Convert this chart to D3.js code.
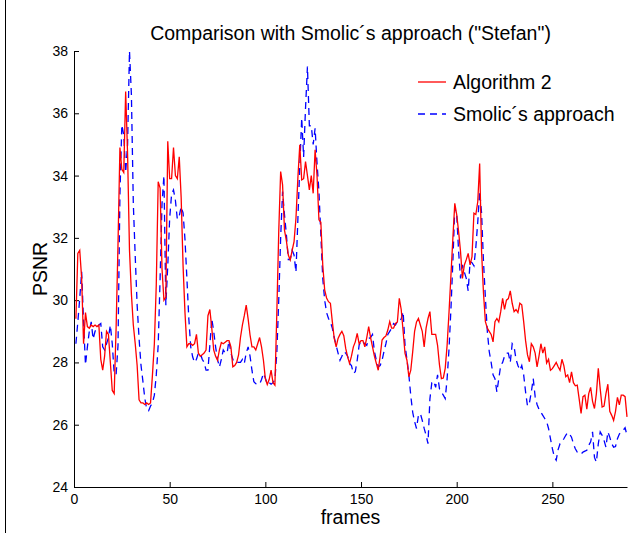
<!DOCTYPE html>
<html lang="en">
<head>
<meta charset="UTF-8">
<title>Comparison with Smolic´s approach</title>
<style>
	* {padding:0; margin:0;}
	body {background:#fff;}
	#chart {display:block;}
	#chart text {font-family:"Liberation Sans", Arial, Helvetica, sans-serif; fill:#000;}
	.axis path, .axis line {stroke:#000; stroke-width:1px; fill:none;}
	.axis text {font-size:14px;}
</style>
</head>
<body>
<svg id="chart" width="633" height="533"></svg>
<script src="https://cdn.jsdelivr.net/npm/d3@7"></script>
<script>
// PSNR per frame (frames 1..289)
var algorithm2 = [
	29.4,31.5,31.6,30.7,28.6,29.6,29.15,29.1,29.2,29.15,29.2,29.15,29.2,28.1,27.75,28.2,29.0,28.9,28.0,27.1,
	27.0,29.1,31.8,34.9,34.2,34.1,36.7,34.7,31.6,30.2,29.2,28.6,27.9,26.8,26.7,26.7,26.65,26.7,26.65,26.7,
	27.6,28.6,30.5,33.8,33.6,31.0,30.0,30.1,35.1,33.9,33.9,34.9,34.0,33.9,34.6,33.3,31.1,29.6,28.5,28.6,
	28.6,28.55,28.6,28.9,28.3,28.2,28.25,28.3,28.4,29.5,29.7,29.1,28.4,28.2,28.07,28.4,28.64,28.6,28.65,28.7,
	28.7,28.5,27.86,27.9,28.0,28.24,28.8,29.2,29.5,29.84,29.4,28.88,28.5,28.5,28.4,28.6,28.8,28.5,28.07,27.48,
	27.29,27.45,27.75,27.35,27.27,29.6,32.2,34.13,33.7,32.25,31.9,31.45,31.29,31.6,31.88,32.63,33.92,34.99,33.86,33.9,
	34.45,34.0,33.54,34.0,33.43,34.83,34.0,32.58,32.5,31.13,30.33,30.07,29.95,29.9,29.31,28.77,28.5,28.77,28.9,29.0,
	28.86,28.45,28.18,27.97,28.2,28.5,28.66,28.93,28.6,28.7,28.7,28.5,28.8,29.15,28.8,28.5,28.2,27.97,27.75,28.2,
	28.72,28.8,28.85,29.04,29.31,29.1,29.1,29.25,29.3,30.06,29.7,29.0,28.29,28.07,27.54,27.75,28.34,29.0,29.3,29.41,
	29.2,29.0,28.5,29.1,29.41,29.63,28.9,28.9,28.9,28.55,27.92,27.48,27.5,27.81,28.56,29.63,30.81,31.99,33.11,32.75,
	32.2,31.56,30.7,31.13,31.3,31.5,31.13,31.4,32.79,32.75,33.16,34.39,31.56,30.22,29.31,29.1,29.0,28.9,28.66,29.31,
	29.41,29.3,29.63,30.06,29.7,30.0,30.05,30.3,29.9,29.63,29.7,29.6,29.9,29.85,29.31,28.7,28.24,28.02,28.6,28.5,
	28.3,27.86,28.2,28.6,28.3,28.5,27.98,28.1,27.75,27.8,27.9,28.0,27.86,27.75,28.1,27.9,27.54,27.6,27.35,27.7,
	27.35,27.25,27.27,26.83,26.36,26.9,26.95,26.5,27.0,27.2,26.75,26.52,27.0,27.81,27.15,26.57,26.6,27.0,27.3,26.43,
	26.3,26.14,26.43,26.88,26.64,26.95,26.95,26.9,26.25
];
var smolic = [
	28.6,29.3,30.06,30.91,29.3,27.92,28.5,29.0,29.3,28.75,29.0,29.1,29.2,29.25,28.5,28.4,28.6,28.8,29.2,28.6,
	27.65,27.6,28.55,33.38,35.63,35.3,34.1,35.0,38.0,36.6,33.1,31.4,29.84,28.77,27.92,27.4,26.85,26.5,26.45,26.6,
	26.7,26.95,27.6,28.55,30.7,33.1,34.0,29.84,31.1,32.63,33.4,33.54,33.2,32.6,32.7,33.0,32.8,31.95,30.7,29.41,
	28.5,28.18,28.0,28.1,28.3,28.3,28.1,28.0,27.75,27.75,28.55,29.41,29.0,28.5,28.1,27.85,28.1,28.4,28.3,28.3,
	28.7,28.3,28.1,28.0,28.0,28.0,28.0,28.1,27.97,28.3,28.5,28.2,27.75,27.38,27.32,27.3,27.3,27.45,27.65,27.5,
	27.3,27.35,27.3,27.35,27.45,28.3,30.0,32.0,33.49,32.75,32.1,31.3,31.3,31.6,31.45,30.9,32.6,34.3,35.85,34.6,
	36.17,37.5,35.6,35.6,35.0,35.52,34.4,33.5,32.1,30.7,30.0,29.6,29.41,29.3,29.1,28.8,28.55,28.3,28.07,28.2,
	28.35,28.3,28.2,27.97,27.9,27.65,27.7,28.07,28.55,28.7,28.65,28.6,28.55,28.77,28.8,28.9,28.35,28.07,27.86,27.9,
	28.07,28.35,28.6,28.9,29.0,29.1,29.25,29.2,29.31,29.3,29.4,29.63,28.55,28.1,27.6,26.93,26.4,26.1,25.88,26.3,
	26.36,26.14,25.88,25.66,25.39,26.83,27.35,27.4,27.2,27.6,27.15,27.05,26.95,26.84,27.48,28.45,29.73,31.24,32.95,32.75,
	31.56,30.7,31.13,30.9,30.7,30.3,31.24,31.2,31.1,31.7,32.5,33.5,32.8,31.24,30.07,29.0,28.35,28.0,27.6,27.48,
	27.05,27.48,27.9,28.0,28.2,28.3,28.3,28.0,28.6,28.5,28.1,27.9,27.75,27.9,27.6,27.05,26.6,26.7,27.05,27.48,
	26.9,26.65,26.5,26.4,26.3,26.2,26.1,25.88,25.55,25.23,24.97,24.86,25.2,25.39,25.45,25.55,25.66,25.75,25.7,25.6,
	25.39,25.23,25.12,25.06,25.06,25.12,25.15,25.18,25.34,25.45,25.77,24.95,24.8,25.39,25.77,25.66,25.5,25.28,25.77,25.6,
	25.39,25.28,25.3,25.55,25.7,25.77,25.82,25.9,25.66
];
var xTicks = [0, 50, 100, 150, 200, 250];
var yTicks = [24, 26, 28, 30, 32, 34, 36, 38];
var seriesNames = ["Algorithm 2", "Smolic´s approach"];

var svg = d3.select("#chart");
var plotLeft = 74, plotRight = 627, plotTop = 51, plotBottom = 487;

var x = d3.scaleLinear().domain([0, 289]).range([plotLeft, plotRight]);
var y = d3.scaleLinear().domain([24, 38]).range([plotBottom, plotTop]);

// thin frame line at the left edge of the figure
svg.append("line")
	.attr("x1", 5.5).attr("x2", 5.5).attr("y1", 0).attr("y2", 533)
	.attr("stroke", "#000").attr("stroke-width", 1);

// axes (ticks point inward like matlab)
svg.append("g")
	.attr("class", "axis")
	.attr("transform", "translate(0," + plotBottom + ")")
	.call(d3.axisBottom(x).tickValues(xTicks).tickSizeInner(-5).tickSizeOuter(0).tickPadding(7));
svg.append("g")
	.attr("class", "axis")
	.attr("transform", "translate(" + plotLeft + ",0)")
	.call(d3.axisLeft(y).tickValues(yTicks).tickSizeInner(-5).tickSizeOuter(0).tickPadding(6));

var line = d3.line()
	.x(function(d, i){ return x(i + 1); })
	.y(function(d){ return y(d); });

svg.append("path")
	.datum(smolic)
	.attr("d", line)
	.attr("fill", "none")
	.attr("stroke", "#0000ff")
	.attr("stroke-width", 1.3)
	.attr("stroke-dasharray", "7,5");

svg.append("path")
	.datum(algorithm2)
	.attr("d", line)
	.attr("fill", "none")
	.attr("stroke", "#ff0000")
	.attr("stroke-width", 1.3);

// title and axis labels
svg.append("text")
	.attr("x", (plotLeft + plotRight) / 2).attr("y", 40)
	.attr("text-anchor", "middle")
	.style("font-size", "19.5px")
	.text("Comparison with Smolic´s approach (\"Stefan\")");
svg.append("text")
	.attr("x", (plotLeft + plotRight) / 2).attr("y", 524)
	.attr("text-anchor", "middle")
	.style("font-size", "19.5px")
	.text("frames");
svg.append("text")
	.attr("transform", "translate(47," + (plotTop + plotBottom) / 2 + ") rotate(-90)")
	.attr("text-anchor", "middle")
	.style("font-size", "19.5px")
	.text("PSNR");

// legend
var legend = svg.append("g").attr("transform", "translate(418,82)");
legend.selectAll("line")
	.data(seriesNames)
	.enter()
	.append("line")
	.attr("x1", 0).attr("x2", 28)
	.attr("y1", function(d, i){ return i * 32; })
	.attr("y2", function(d, i){ return i * 32; })
	.attr("stroke", function(d, i){ return i == 0 ? "#ff0000" : "#0000ff"; })
	.attr("stroke-width", 1.3)
	.attr("stroke-dasharray", function(d, i){ return i == 0 ? null : "7,5"; });
legend.selectAll("text")
	.data(seriesNames)
	.enter()
	.append("text")
	.attr("x", 35)
	.attr("y", function(d, i){ return i * 32 + 6.5; })
	.style("font-size", "19.5px")
	.text(function(d){ return d; });
</script>
</body>
</html>
